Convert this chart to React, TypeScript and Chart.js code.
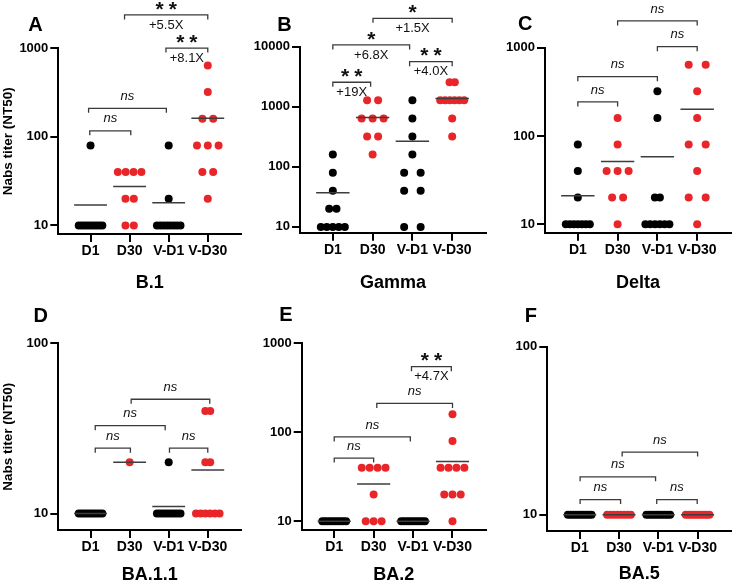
import React, { useEffect, useRef } from 'react';
import { Chart, registerables } from 'chart.js';

Chart.register(...registerables);

const FONT = '"Liberation Sans", Arial, Helvetica, sans-serif';
Chart.defaults.font.family = FONT;

const GROUPS = ['D1', 'D30', 'V-D1', 'V-D30'];
const Y_TITLE = 'Nabs titer (NT50)';

// ---- B.1 ----
const B1_D1 = [80, 10, 10, 10, 10, 10, 10, 10, 10, 10];
const B1_D30 = [40, 40, 40, 40, 20, 20, 10, 10];
const B1_VD1 = [80, 20, 10, 10, 10, 10, 10, 10, 10, 10];
const B1_VD30 = [640, 320, 160, 160, 80, 80, 80, 40, 40, 20];

// ---- Gamma ----
const GAMMA_D1 = [160, 80, 40, 20, 20, 10, 10, 10, 10, 10];
const GAMMA_D30 = [1280, 1280, 640, 640, 640, 320, 320, 160];
const GAMMA_VD1 = [1280, 640, 320, 160, 80, 80, 40, 40, 10, 10];
const GAMMA_VD30 = [2560, 2560, 1280, 1280, 1280, 1280, 1280, 1280, 640, 320];

// ---- Delta ----
const DELTA_D1 = [80, 40, 20, 10, 10, 10, 10, 10, 10, 10];
const DELTA_D30 = [160, 80, 40, 40, 40, 20, 20, 10];
const DELTA_VD1 = [320, 160, 20, 20, 10, 10, 10, 10, 10, 10];
const DELTA_VD30 = [640, 640, 320, 160, 80, 80, 40, 20, 20, 10];

// ---- BA.1.1 ----
const BA11_D1 = [10, 10, 10, 10, 10, 10, 10, 10, 10, 10];
const BA11_D30 = [20];
const BA11_VD1 = [20, 10, 10, 10, 10, 10, 10, 10, 10, 10];
const BA11_VD30 = [40, 40, 20, 20, 10, 10, 10, 10, 10, 10];

// ---- BA.2 ----
const BA2_D1 = [10, 10, 10, 10, 10, 10, 10, 10, 10, 10];
const BA2_D30 = [40, 40, 40, 40, 20, 10, 10, 10];
const BA2_VD1 = [10, 10, 10, 10, 10, 10, 10, 10, 10, 10];
const BA2_VD30 = [160, 80, 40, 40, 40, 40, 20, 20, 20, 10];

// ---- BA.5 ----
const BA5_D1 = [10, 10, 10, 10, 10, 10, 10, 10, 10, 10];
const BA5_D30 = [10, 10, 10, 10, 10, 10, 10, 10];
const BA5_VD1 = [10, 10, 10, 10, 10, 10, 10, 10, 10, 10];
const BA5_VD30 = [10, 10, 10, 10, 10, 10, 10, 10, 10, 10];

type Bracket = { from: number; to: number; y: number; above: string; below?: string };

// comparison brackets: group positions (1..4), titer level, labels
const B1_BRACKETS: Bracket[] = [
  { from: 0.98, to: 2.03, y: 117, above: 'ns' },
  { from: 0.95, to: 2.94, y: 210, above: 'ns' },
  { from: 2.93, to: 4.0, y: 1005, above: '**', below: '+8.1X' },
  { from: 1.87, to: 4.0, y: 2380, above: '**', below: '+5.5X' },
];
const GAMMA_BRACKETS: Bracket[] = [
  { from: 1, to: 1.95, y: 2560, above: '**', below: '+19X' },
  { from: 1, to: 2.93, y: 10700, above: '*', below: '+6.8X' },
  { from: 2.93, to: 4, y: 5640, above: '**', below: '+4.0X' },
  { from: 2.01, to: 4, y: 29700, above: '*', below: '+1.5X' },
];
const DELTA_BRACKETS: Bracket[] = [
  { from: 1, to: 2, y: 243, above: 'ns' },
  { from: 1, to: 3, y: 470, above: 'ns' },
  { from: 3, to: 4, y: 1028, above: 'ns' },
  { from: 2, to: 4, y: 2010, above: 'ns' },
];
const BA11_BRACKETS: Bracket[] = [
  { from: 1.12, to: 2.02, y: 24.2, above: 'ns' },
  { from: 3.02, to: 4.0, y: 24.2, above: 'ns' },
  { from: 1.12, to: 2.91, y: 32.8, above: 'ns' },
  { from: 2.04, to: 4.05, y: 46.9, above: 'ns' },
];
const BA2_BRACKETS: Bracket[] = [
  { from: 1, to: 2, y: 51.4, above: 'ns' },
  { from: 1, to: 2.93, y: 88.7, above: 'ns' },
  { from: 2.08, to: 4, y: 211, above: 'ns' },
  { from: 2.96, to: 3.97, y: 546, above: '**', below: '+4.7X' },
];
const BA5_BRACKETS: Bracket[] = [
  { from: 1.01, to: 2.04, y: 12.3, above: 'ns' },
  { from: 2.96, to: 3.99, y: 12.3, above: 'ns' },
  { from: 1.01, to: 2.93, y: 16.8, above: 'ns' },
  { from: 2.08, to: 4.0, y: 23.6, above: 'ns' },
];

type Panel = {
  letter: string;
  variant: string;
  groups: number[][];
  yMax: number;
  brackets: Bracket[];
  yTitle: boolean;
};

const PANELS: Panel[] = [
  { letter: 'A', variant: 'B.1', groups: [B1_D1, B1_D30, B1_VD1, B1_VD30], yMax: 1000, brackets: B1_BRACKETS, yTitle: true },
  { letter: 'B', variant: 'Gamma', groups: [GAMMA_D1, GAMMA_D30, GAMMA_VD1, GAMMA_VD30], yMax: 10000, brackets: GAMMA_BRACKETS, yTitle: false },
  { letter: 'C', variant: 'Delta', groups: [DELTA_D1, DELTA_D30, DELTA_VD1, DELTA_VD30], yMax: 1000, brackets: DELTA_BRACKETS, yTitle: false },
  { letter: 'D', variant: 'BA.1.1', groups: [BA11_D1, BA11_D30, BA11_VD1, BA11_VD30], yMax: 100, brackets: BA11_BRACKETS, yTitle: true },
  { letter: 'E', variant: 'BA.2', groups: [BA2_D1, BA2_D30, BA2_VD1, BA2_VD30], yMax: 1000, brackets: BA2_BRACKETS, yTitle: false },
  { letter: 'F', variant: 'BA.5', groups: [BA5_D1, BA5_D30, BA5_VD1, BA5_VD30], yMax: 100, brackets: BA5_BRACKETS, yTitle: false },
];

// ---- layout of the six panels (canvas-relative pixels) ----
const CANVAS_W = 245;
const CANVAS_H = 300;
const PLOT_W = 186;
const X_MIN = 0.175;
const X_MAX = 4.85;
const Y_MIN = 8;
const MAX_SPAN = 24; // widest horizontal spread of one row of tied dots, px

const LAYOUT = [
  { left: 0, top: 0, plotLeft: 58.3, plotTop: 48.3, plotBottom: 234, letterX: 35.5, letterY: 23.7, titlePad: 7.7, gaps: [9, 8.5, 9, 11] },
  { left: 245, top: 0, plotLeft: 55, plotTop: 46.7, plotBottom: 232.7, letterX: 39.5, letterY: 23.3, titlePad: 7.7, gaps: [7.3, 11, 16.5, 5.3] },
  { left: 490, top: 0, plotLeft: 55, plotTop: 47.7, plotBottom: 232.7, letterX: 35.3, letterY: 22.5, titlePad: 7.7, gaps: [9, 11, 5, 17] },
  { left: 0, top: 285, plotLeft: 58.3, plotTop: 58.3, plotBottom: 245, letterX: 40.8, letterY: 30, titlePad: 1, gaps: [9, 9, 9, 5] },
  { left: 245, top: 285, plotLeft: 56.7, plotTop: 58.3, plotBottom: 245, letterX: 40.8, letterY: 28.3, titlePad: 1, gaps: [9, 8, 9, 8.3] },
  { left: 490, top: 285, plotLeft: 57.3, plotTop: 61.7, plotBottom: 246, letterX: 40.8, letterY: 30, titlePad: 2, gaps: [9, 9, 9, 9] },
];

const BLACK = '#000000';
const RED = '#e8262a';
const LINE_GRAY = '#3d3d3d';
const BRACKET_COLOR = '#3a3a3a';

const mean = (vals: number[]) => vals.reduce((a, b) => a + b, 0) / vals.length;

// spread tied values sideways around the group centre, like a column scatter
function spread(values: number[], center: number, gapPx: number, pxPerUnit: number) {
  const counts = new Map<number, number>();
  values.forEach((v) => counts.set(v, (counts.get(v) || 0) + 1));
  const seen = new Map<number, number>();
  return values.map((v) => {
    const n = counts.get(v) as number;
    const i = seen.get(v) || 0;
    seen.set(v, i + 1);
    const step = n > 1 ? Math.min(gapPx, MAX_SPAN / (n - 1)) : 0;
    return { x: center + ((i - (n - 1) / 2) * step) / pxPerUnit, y: v };
  });
}

function decades(max: number) {
  const out: { value: number }[] = [];
  for (let v = 10; v <= max; v *= 10) out.push({ value: v });
  return out;
}

function PanelChart({ panel, lay }: { panel: Panel; lay: (typeof LAYOUT)[number] }) {
  const ref = useRef<HTMLCanvasElement>(null);

  useEffect(() => {
    if (!ref.current) return;
    const pxPerUnit = PLOT_W / (X_MAX - X_MIN);

    const meanLines = panel.groups.map((vals, g) => {
      const m = mean(vals);
      return {
        type: 'line' as const,
        data: [
          { x: g + 1 - 0.42, y: m },
          { x: g + 1 + 0.42, y: m },
        ],
        borderColor: LINE_GRAY,
        borderWidth: 1.5,
        pointRadius: 0,
        fill: false,
        order: 0,
      };
    });

    const dots = panel.groups.map((vals, g) => ({
      type: 'scatter' as const,
      data: spread(vals, g + 1, lay.gaps[g], pxPerUnit),
      backgroundColor: g % 2 === 0 ? BLACK : RED,
      borderWidth: 0,
      pointRadius: 4,
      pointHoverRadius: 4,
      order: 1,
    }));

    const annotations = {
      id: 'panelAnnotations',
      afterDraw(chart: any) {
        const ctx: CanvasRenderingContext2D = chart.ctx;
        const xs = chart.scales.x;
        const ys = chart.scales.y;
        ctx.save();
        ctx.fillStyle = '#000';
        ctx.textAlign = 'center';

        // panel letter
        ctx.font = `bold 20px ${FONT}`;
        ctx.textBaseline = 'alphabetic';
        ctx.fillText(panel.letter, lay.letterX, lay.letterY + 7.2);

        for (const b of panel.brackets) {
          const x1 = xs.getPixelForValue(b.from);
          const x2 = xs.getPixelForValue(b.to);
          const y = ys.getPixelForValue(b.y);
          ctx.strokeStyle = BRACKET_COLOR;
          ctx.lineWidth = 1.3;
          ctx.beginPath();
          ctx.moveTo(x1, y + 4.5);
          ctx.lineTo(x1, y);
          ctx.lineTo(x2, y);
          ctx.lineTo(x2, y + 4.5);
          ctx.stroke();
          const cx = (x1 + x2) / 2;
          ctx.fillStyle = '#111';
          if (b.above === 'ns') {
            ctx.font = `italic 13px ${FONT}`;
            ctx.textBaseline = 'middle';
            ctx.fillText(b.above, cx, y - 12);
          } else {
            ctx.font = `bold 21px ${FONT}`;
            ctx.textBaseline = 'alphabetic';
            (ctx as any).letterSpacing = '5px';
            ctx.fillText(b.above, cx + 2.5, y - 11.5 + 12.2);
            (ctx as any).letterSpacing = '0px';
          }
          if (b.below) {
            ctx.font = `13px ${FONT}`;
            ctx.textBaseline = 'middle';
            ctx.fillText(b.below, cx, y + 10);
          }
        }
        ctx.restore();
      },
    };

    const chart = new Chart(ref.current, {
      type: 'scatter',
      data: { datasets: [...meanLines, ...dots] as any },
      options: {
        responsive: false,
        animation: false,
        devicePixelRatio: 1,
        events: [],
        layout: {
          padding: { top: lay.plotTop, right: CANVAS_W - lay.plotLeft - PLOT_W, bottom: 0, left: 0 },
        },
        plugins: {
          legend: { display: false },
          tooltip: { enabled: false },
          title: { display: false },
        },
        scales: {
          x: {
            type: 'linear',
            bounds: 'data',
            min: X_MIN,
            max: X_MAX,
            afterFit: (s: any) => {
              s.height = CANVAS_H - lay.plotBottom;
            },
            afterBuildTicks: (s: any) => {
              s.ticks = GROUPS.map((_, i) => ({ value: i + 1 }));
            },
            ticks: {
              autoSkip: false,
              maxRotation: 0,
              padding: 1.2,
              color: '#000',
              font: { size: 14, weight: 'bold' },
              callback: (v: any) => GROUPS[Math.round(Number(v)) - 1] ?? '',
            },
            grid: { drawOnChartArea: false, drawTicks: true, tickLength: 8, color: '#000', lineWidth: 2 },
            border: { display: true, color: '#000', width: 2 },
            title: {
              display: true,
              text: panel.variant,
              color: '#000',
              font: { size: 18, weight: 'bold', lineHeight: 1 },
              padding: { top: 0, bottom: lay.titlePad },
            },
          },
          y: {
            type: 'logarithmic',
            bounds: 'data',
            min: Y_MIN,
            max: panel.yMax,
            afterFit: (s: any) => {
              s.width = lay.plotLeft;
            },
            afterBuildTicks: (s: any) => {
              s.ticks = decades(panel.yMax);
            },
            ticks: {
              autoSkip: false,
              padding: 2,
              color: '#000',
              font: { size: 13, weight: 'bold' },
              callback: (v: any) => String(v),
            },
            grid: { drawOnChartArea: false, drawTicks: true, tickLength: 8, color: '#000', lineWidth: 2 },
            border: { display: true, color: '#000', width: 2 },
            title: {
              display: panel.yTitle,
              text: Y_TITLE,
              color: '#000',
              font: { size: 13.5, weight: 'bold' },
              padding: { top: 0.5, bottom: 0 },
            },
          },
        },
      } as any,
      plugins: [annotations],
    });
    return () => chart.destroy();
  }, [panel, lay]);

  return (
    <canvas
      ref={ref}
      width={CANVAS_W}
      height={CANVAS_H}
      style={{ position: 'absolute', left: lay.left, top: lay.top, width: CANVAS_W, height: CANVAS_H }}
    />
  );
}

export default function App() {
  return (
    <div style={{ position: 'absolute', left: 0, top: 0, width: 735, height: 585, background: '#fff', overflow: 'hidden' }}>
      {PANELS.map((p, i) => (
        <PanelChart key={p.letter} panel={p} lay={LAYOUT[i]} />
      ))}
    </div>
  );
}
